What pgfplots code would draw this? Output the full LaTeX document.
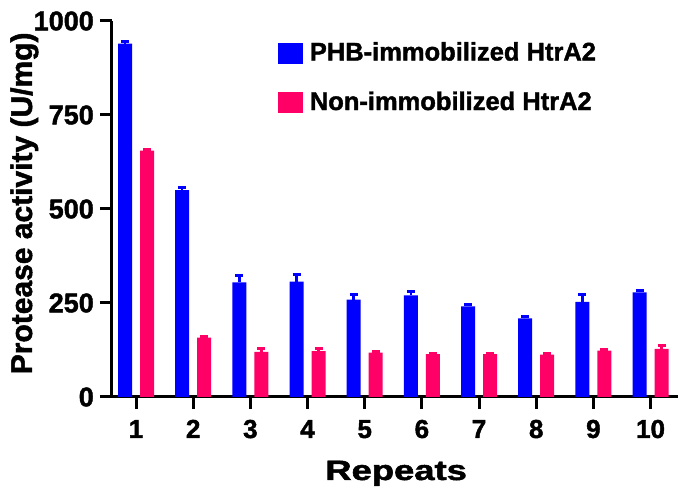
\documentclass[border=0pt]{standalone}
\usepackage{fontspec}
\setmainfont{Liberation Sans}[BoldFeatures={FakeBold=1.6}]
\usepackage{pgfplots}
\usepackage{pgfplotstable}
\pgfplotsset{compat=1.18}
\definecolor{cblue}{RGB}{0,0,255}
\definecolor{cpink}{RGB}{255,0,102}
\pgfplotstableread{
x blue bluee pink pinke
1 940 5 655 4
2 550 6 158 4
3 305 18 120 8
4 307 19 122 8
5 259 14 118 3
6 270 10 114 3
7 241 5 114 3
8 209 4 113 3
9 253 19 123 3
10 278 4 128 9
}\data
\begin{document}
\begin{tikzpicture}
\begin{axis}[
  scale only axis, width=566pt, height=376pt,
  xmin=0.58, xmax=10.48, ymin=0, ymax=1000,
  enlargelimits=false, clip=false,
  axis lines=left,
  axis line style={-, line width=3pt, black},
  ybar, bar width=14pt,
  xtick={1,...,10}, ytick={0,250,500,750,1000},
  tick align=outside, major tick length=12pt,
  tick style={line width=3pt, black},
  /pgf/number format/assume math mode=true,
  /pgf/number format/1000 sep={},
  yticklabel style={font=\fontsize{27}{27}\selectfont\bfseries, anchor=east, inner sep=0pt, xshift=-6pt},
  xticklabel style={font=\fontsize{26}{26}\selectfont\bfseries, anchor=base, inner sep=0pt, yshift=-29pt},
  every axis y label/.style={at={([xshift=-80pt]axis description cs:0,0.515)}, rotate=90, anchor=base, inner sep=0pt, font=\fontsize{30}{30}\selectfont\bfseries},
  every axis x label/.style={at={([yshift=-83pt]axis description cs:0.502,0)}, anchor=base, inner sep=0pt, xscale=1.3, font=\fontsize{28}{28}\selectfont\bfseries},
  ylabel={Protease activity (U/mg)},
  xlabel={Repeats},
  legend style={draw=none, fill=none, inner sep=0pt, outer sep=0pt,
    anchor=north west, at={(0.293,0.944)}, row sep=28pt,
    nodes={inner sep=0pt, font=\fontsize{25.5}{25.5}\selectfont\bfseries},
    /tikz/every odd column/.style={column sep=7pt}},
  legend cell align=left,
]
\addplot[fill=cblue, draw=none, bar shift=-11pt,
  legend image code/.code={\fill[cblue] (0pt,-11.5pt) rectangle (25pt,9.5pt);},
  error bars/.cd, y dir=plus, y explicit,
  error bar style={line width=2.5pt, cblue},
  error mark options={rotate=90, mark size=4pt, line width=3pt, cblue}]
  table[x=x, y=blue, y error=bluee] {\data};
\addplot[fill=cpink, draw=none, bar shift=11pt,
  legend image code/.code={\fill[cpink] (0pt,-11.5pt) rectangle (25pt,9.5pt);},
  error bars/.cd, y dir=plus, y explicit,
  error bar style={line width=2.5pt, cpink},
  error mark options={rotate=90, mark size=4pt, line width=3pt, cpink}]
  table[x=x, y=pink, y error=pinke] {\data};
\legend{PHB-immobilized HtrA2, Non-immobilized HtrA2}
\end{axis}
\pgfresetboundingbox
\path[use as bounding box] (-112pt,-100pt) rectangle (574pt,397pt);
\end{tikzpicture}
\end{document}
